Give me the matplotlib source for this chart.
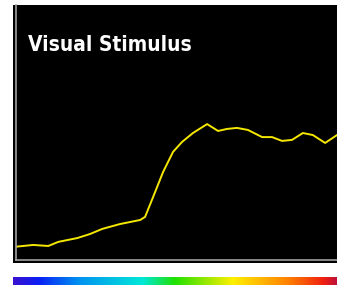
import matplotlib
matplotlib.use('Agg')
import matplotlib.pyplot as plt
from matplotlib.colors import LinearSegmentedColormap
import numpy as np

# response trace (arbitrary units, 0-100)
time = [0, 5.5, 10.2, 13.3, 19.2, 23.2, 27.0, 32.5, 38.8, 40.3, 42.8, 45.9, 49.0,
        51.8, 55.2, 59.6, 61.5, 63.0, 65.8, 68.9, 72.3, 76.7, 79.8, 82.9, 86.0,
        89.4, 92.5, 96.3, 100]
response = [5.2, 5.9, 5.5, 7.1, 8.6, 10.2, 12.2, 14.1, 15.7, 16.9, 24.7, 34.5, 42.4,
            46.3, 49.8, 53.3, 51.8, 50.6, 51.4, 51.8, 51.0, 48.2, 48.2, 46.7, 47.1,
            49.8, 49.0, 45.9, 49.0]
title = 'Visual Stimulus'

W, H = 337, 285
fig = plt.figure(figsize=(W / 100, H / 100), dpi=100)

# black panel behind the axes
bg = fig.add_axes([13 / W, 1 - 263 / H, (337 - 13) / W, (263 - 5) / H])
bg.axis('off')
bg.add_patch(plt.Rectangle((0, 0), 1, 1, transform=bg.transAxes, color='black'))

ax = fig.add_axes([15.5 / W, 1 - 260 / H, (337 - 15.5) / W, (260 - 5) / H])
ax.set_zorder(2)
ax.patch.set_alpha(0)
ax.plot(time, response, color='#f5e800', lw=1.4)
ax.set_xlim(0, 100)
ax.set_ylim(0, 100)
ax.set_xticks([])
ax.set_yticks([])
for s in ['top', 'right']:
    ax.spines[s].set_visible(False)
for s in ['left', 'bottom']:
    ax.spines[s].set_color('#a0a0a0')
    ax.spines[s].set_linewidth(1.2)
ax.text(0.04, 0.845, title, transform=ax.transAxes, color='white', fontsize=15,
        fontweight='bold', fontstretch='condensed', family=['DejaVu Sans'],
        va='center', ha='left')

# rainbow colour bar at the bottom
cmap = LinearSegmentedColormap.from_list('stim', [
    (0.0, '#3a10d0'), (0.08, '#0a20f5'), (0.2, '#0090f0'), (0.4, '#00e8d8'),
    (0.5, '#20e000'), (0.68, '#fff000'), (0.85, '#ff8000'), (0.96, '#f02010'),
    (1.0, '#c0103a')])
cax = fig.add_axes([13 / W, 0, (337 - 13) / W, 8 / H])
cax.imshow(np.linspace(0, 1, 256)[None, :], aspect='auto', cmap=cmap)
cax.axis('off')

fig.savefig('out.png', dpi=100, facecolor='white')
